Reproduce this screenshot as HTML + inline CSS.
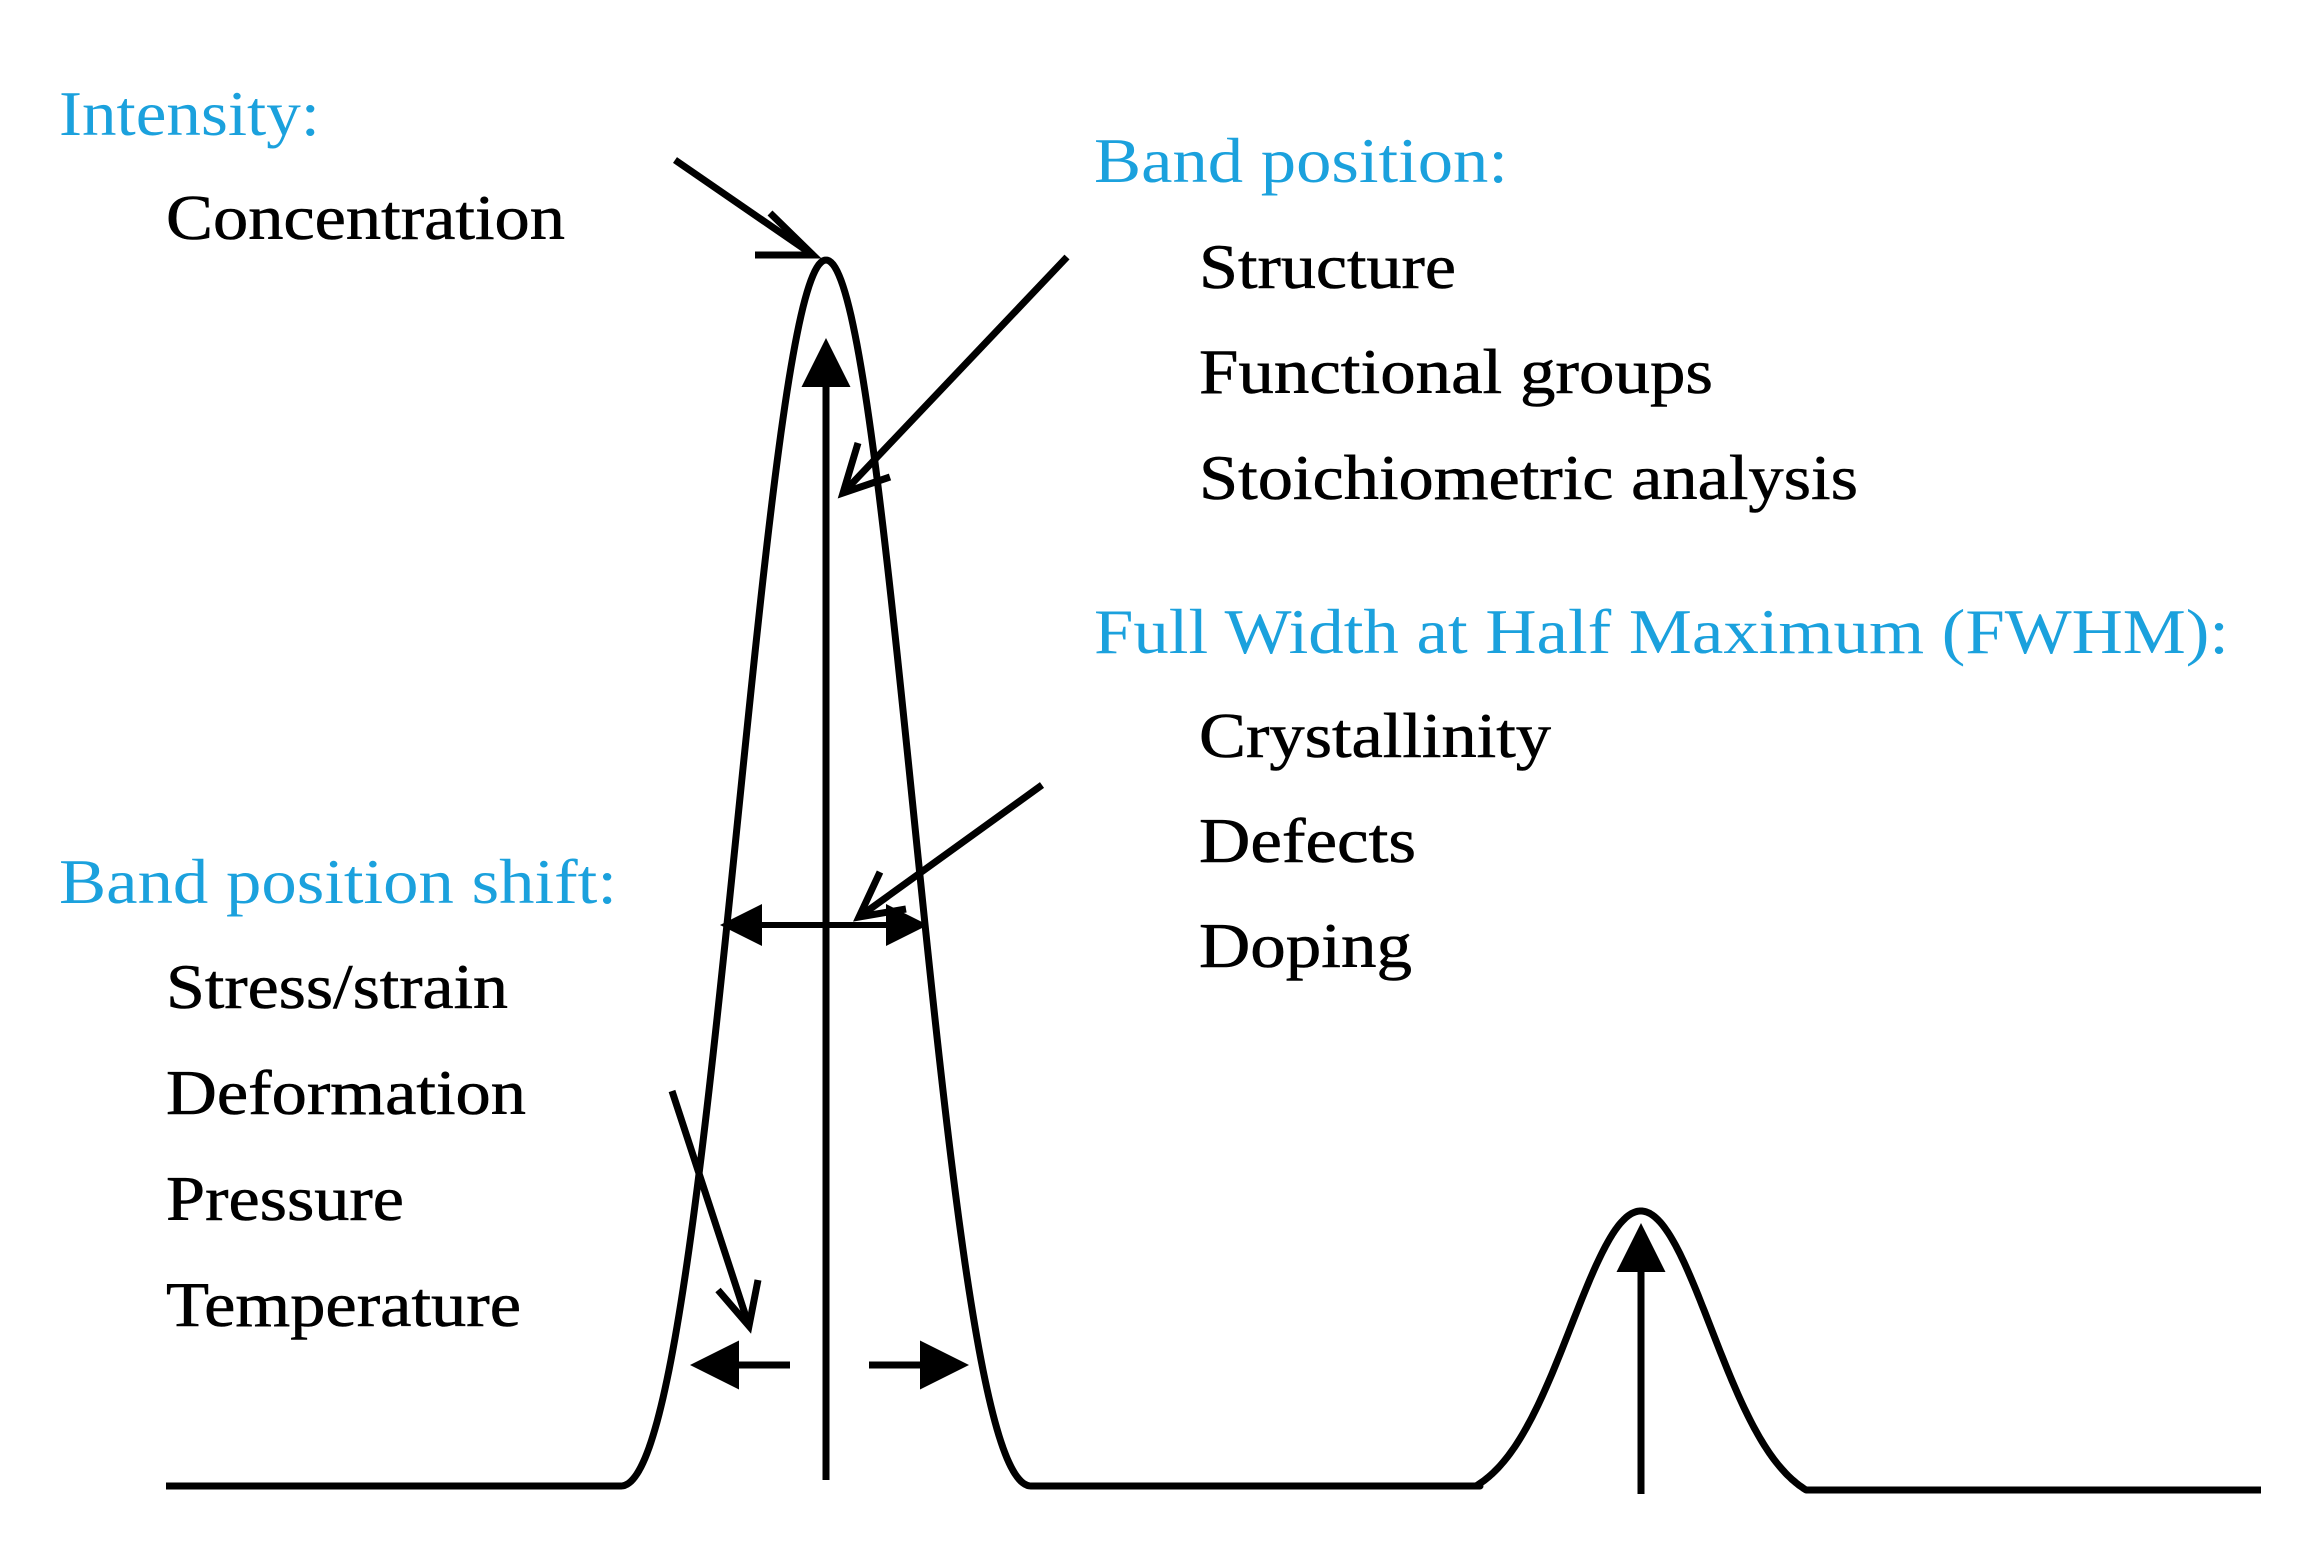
<!DOCTYPE html>
<html><head><meta charset="utf-8">
<style>
html,body{margin:0;padding:0;background:#fff;}
svg{display:block;}
.b{fill:#1ba1dd;font-family:"Liberation Serif",serif;font-size:63px;}
.k{fill:#000;font-family:"Liberation Serif",serif;font-size:63px;stroke:#000;stroke-width:0.6;}
</style></head>
<body>
<svg id="s" width="2302" height="1542" viewBox="0 0 2302 1542" xmlns="http://www.w3.org/2000/svg">
<defs>
<marker id="fh" markerWidth="7" markerHeight="7" refX="6" refY="3.5" orient="auto" markerUnits="strokeWidth">
<path d="M0,0 L7,3.5 L0,7 Z" fill="#000"/></marker>
</defs>
<text class="b" x="59" y="135" textLength="261" lengthAdjust="spacingAndGlyphs">Intensity:</text>
<text class="k" x="166" y="239" textLength="399" lengthAdjust="spacingAndGlyphs">Concentration</text>
<text class="b" x="1094" y="182" textLength="414" lengthAdjust="spacingAndGlyphs">Band position:</text>
<text class="k" x="1199" y="288" textLength="257" lengthAdjust="spacingAndGlyphs">Structure</text>
<text class="k" x="1199" y="393" textLength="514" lengthAdjust="spacingAndGlyphs">Functional groups</text>
<text class="k" x="1199" y="499" textLength="659" lengthAdjust="spacingAndGlyphs">Stoichiometric analysis</text>
<text class="b" x="1094" y="653" textLength="1135" lengthAdjust="spacingAndGlyphs">Full Width at Half Maximum (FWHM):</text>
<text class="k" x="1199" y="757" textLength="352" lengthAdjust="spacingAndGlyphs">Crystallinity</text>
<text class="k" x="1199" y="862" textLength="217" lengthAdjust="spacingAndGlyphs">Defects</text>
<text class="k" x="1199" y="967" textLength="213" lengthAdjust="spacingAndGlyphs">Doping</text>
<text class="b" x="59" y="903" textLength="558" lengthAdjust="spacingAndGlyphs">Band position shift:</text>
<text class="k" x="166" y="1008" textLength="342" lengthAdjust="spacingAndGlyphs">Stress/strain</text>
<text class="k" x="166" y="1114" textLength="360" lengthAdjust="spacingAndGlyphs">Deformation</text>
<text class="k" x="166" y="1220" textLength="238" lengthAdjust="spacingAndGlyphs">Pressure</text>
<text class="k" x="166" y="1326" textLength="355" lengthAdjust="spacingAndGlyphs">Temperature</text>

<path id="curve" fill="none" stroke="#000" stroke-width="7" stroke-linejoin="round"/>

<g stroke="#000" stroke-width="7" fill="none" stroke-linecap="butt">
<line x1="826" y1="1480" x2="826" y2="345" marker-end="url(#fh)"/>
<line x1="1641" y1="1494" x2="1641" y2="1230" marker-end="url(#fh)"/>
<line x1="826" y1="925" x2="726" y2="925" stroke-width="6" marker-end="url(#fh)"/>
<line x1="826" y1="925" x2="922" y2="925" stroke-width="6" marker-end="url(#fh)"/>
<line x1="790" y1="1365" x2="697" y2="1365" marker-end="url(#fh)"/>
<line x1="869" y1="1365" x2="962" y2="1365" marker-end="url(#fh)"/>
<line x1="675" y1="160" x2="813" y2="255"/>
<path d="M770,213 L813,255 L755,255"/>
<line x1="1067" y1="257" x2="843" y2="493"/>
<path d="M858,443 L843,493 L890,477"/>
<line x1="1042" y1="785" x2="859" y2="917"/>
<path d="M880,872 L859,917 L906,909"/>
<line x1="672" y1="1091" x2="749" y2="1326"/>
<path d="M718,1290 L749,1326 L758,1280"/>
</g>
</svg>
<script>
(function(){
  var c=826,h=1486-260,half=205,sig=95;
  var s2=2*sig*sig;
  var fe=Math.exp(-half*half/s2);
  var B=-fe/s2, A=fe-B*half*half, N=1-A;
  var d="M166,1486 L"+(c-half)+",1486 ";
  for(var x=-half;x<=half;x+=2){
    var f=(Math.exp(-x*x/s2)-A-B*x*x)/N;
    d+="L"+(c+x)+","+(1486-h*f).toFixed(1)+" ";
  }
  d+="L1480,1486 ";
  var c2=1641,h2=1488-1211,hw=165,sg=70;
  var fe2=Math.exp(-hw*hw/(2*sg*sg));
  for(var x2=-hw;x2<=hw;x2+=2){
    var f2=(Math.exp(-x2*x2/(2*sg*sg))-fe2)/(1-fe2);
    var base=1486+(x2+hw)/(2*hw)*4;
    d+="L"+(c2+x2)+","+(base-h2*f2).toFixed(1)+" ";
  }
  d+="L2261,1490";
  document.getElementById("curve").setAttribute("d",d);
})();
</script>
</body></html>
